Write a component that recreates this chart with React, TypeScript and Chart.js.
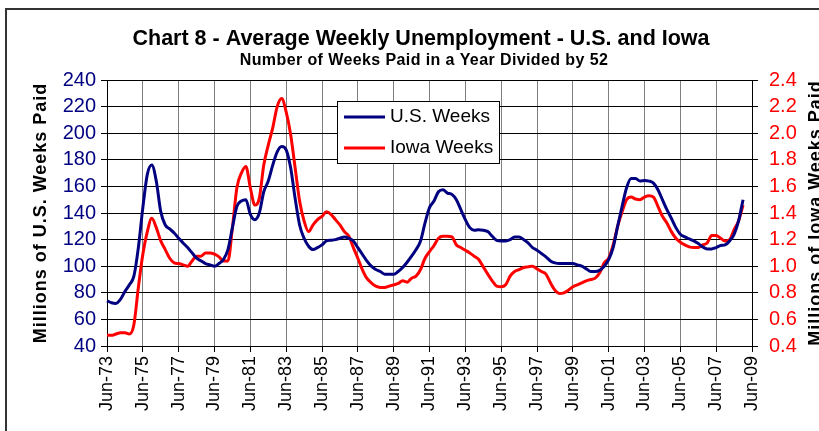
import React, { useEffect, useRef } from "react";
import { Chart, registerables } from "chart.js";

Chart.register(...registerables);

const FONT = '"Liberation Sans", Arial, Helvetica, sans-serif';
const NAVY = "#000080";
const RED = "#FF0000";

// Quarterly categories, Jun-73 .. Jun-09
const QUARTER_MONTHS = ["Mar", "Jun", "Sep", "Dec"];
const categories: string[] = [];
for (let y = 1973; y <= 2009; y++) {
  for (const m of QUARTER_MONTHS) {
    if (y === 1973 && m === "Mar") continue;
    if (y === 2009 && (m === "Sep" || m === "Dec")) continue;
    categories.push(`${m}-${String(y % 100).padStart(2, "0")}`);
  }
}

// Labels shown on the x axis
const xTickLabels = [
  "Jun-73", "Jun-75", "Jun-77", "Jun-79", "Jun-81", "Jun-83", "Jun-85", "Jun-87", "Jun-89",
  "Jun-91", "Jun-93", "Jun-95", "Jun-97", "Jun-99", "Jun-01", "Jun-03", "Jun-05", "Jun-07", "Jun-09",
];

// U.S. weeks paid (millions), quarterly: Jun, Sep, Dec, Mar
const usWeeks: (number | null)[] = [
  74, 72.5, 72, 75,
  81, 86, 92.5, 114,
  144, 169, 176, 164,
  141, 131, 128, 125,
  121, 117.5, 114, 110,
  106, 104, 102, 101,
  100, 102, 105, 112.5,
  129, 145, 149, 150,
  139, 135, 140, 156,
  164, 176, 186, 190,
  187.5, 174, 151, 131,
  121, 115, 112.5, 114,
  116, 119, 119.5, 120,
  121, 122, 121, 119,
  114, 109, 104, 100,
  97.5, 96, 94, 94,
  94, 96, 99, 103,
  107.5, 112.5, 119, 132.5,
  144, 149, 156, 157.5,
  155, 154, 150, 142.5,
  135, 129, 127, 127.5,
  127, 126, 122.5, 119.5,
  119, 119, 120, 122,
  122, 120, 117.5, 114,
  112, 109.5, 107, 104,
  102.5, 102, 102, 102,
  102, 101, 100, 98,
  96, 96, 97, 100,
  105, 114, 130, 145,
  159, 166, 166, 164,
  164.5, 164, 162.5, 157.5,
  150, 142.5, 136, 129,
  124, 122, 120.5, 119,
  117, 114.5, 113, 113,
  114, 115.5, 116, 119,
  124, 134, 150, null, null,
];

// Iowa weeks paid (millions), quarterly: Jun, Sep, Dec, Mar
const iowaWeeks: (number | null)[] = [
  0.48, 0.48, 0.49, 0.5,
  0.5, 0.49, 0.56, 0.84,
  1.09, 1.26, 1.36, 1.29,
  1.19, 1.125, 1.06, 1.025,
  1.02, 1.01, 1.0, 1.04,
  1.075, 1.075, 1.1, 1.1,
  1.09, 1.07, 1.04, 1.04,
  1.29, 1.59, 1.7, 1.75,
  1.59, 1.46, 1.51, 1.76,
  1.91, 2.04, 2.2, 2.26,
  2.16, 1.99, 1.74, 1.49,
  1.34, 1.26, 1.31, 1.35,
  1.375, 1.41, 1.39, 1.35,
  1.31, 1.26, 1.225, 1.14,
  1.06, 0.975, 0.91, 0.875,
  0.85, 0.84, 0.84, 0.85,
  0.86, 0.87, 0.89, 0.88,
  0.91, 0.925, 0.975, 1.06,
  1.11, 1.155, 1.21, 1.225,
  1.225, 1.22, 1.16, 1.14,
  1.12, 1.1, 1.075, 1.05,
  0.995, 0.94, 0.89, 0.85,
  0.845, 0.86, 0.925, 0.96,
  0.975, 0.99, 0.995, 1.0,
  0.98, 0.96, 0.94, 0.875,
  0.82, 0.795, 0.8, 0.82,
  0.845, 0.86, 0.875, 0.89,
  0.9, 0.91, 0.95, 1.025,
  1.06, 1.16, 1.3, 1.41,
  1.5, 1.52, 1.505, 1.5,
  1.52, 1.53, 1.52, 1.45,
  1.375, 1.325, 1.26, 1.21,
  1.18, 1.16, 1.145, 1.14,
  1.14, 1.16, 1.175, 1.23,
  1.23, 1.21, 1.19, 1.2,
  1.275, 1.34, 1.46, null, null,
];

const seriesNames = ["U.S. Weeks", "Iowa Weeks"];
const titleText = "Chart 8 - Average Weekly Unemployment - U.S. and Iowa";
const subtitleText = "Number of Weeks Paid in a Year Divided by 52";
const leftAxisTitle = "Millions of U.S. Weeks Paid";
const rightAxisTitle = "Millions of Iowa Weeks Paid";

function setSpacing(ctx: any, px: number) {
  if ("letterSpacing" in ctx) ctx.letterSpacing = `${px}px`;
}

const decorPlugin = {
  id: "decor",
  beforeDraw(chart: any) {
    const ctx = chart.ctx as CanvasRenderingContext2D;
    ctx.save();
    ctx.fillStyle = "#ffffff";
    ctx.fillRect(0, 0, chart.width, chart.height);
    ctx.strokeStyle = "#333333";
    ctx.lineWidth = 2;
    ctx.strokeRect(6, 9, chart.width + 20, chart.height + 20);
    ctx.restore();
  },
  afterDatasetsDraw(chart: any) {
    const ctx = chart.ctx as CanvasRenderingContext2D;
    ctx.save();
    ctx.fillStyle = "#ffffff";
    ctx.fillRect(337, 101, 162, 62);
    ctx.strokeStyle = "#000000";
    ctx.lineWidth = 1;
    ctx.strokeRect(337.5, 101.5, 162, 62);
    const colors = [NAVY, RED];
    const ys = [117, 148];
    ctx.font = `19px ${FONT}`;
    ctx.textBaseline = "middle";
    ctx.textAlign = "left";
    seriesNames.forEach((name, i) => {
      ctx.strokeStyle = colors[i];
      ctx.lineWidth = 3;
      ctx.beginPath();
      ctx.moveTo(344, ys[i]);
      ctx.lineTo(385, ys[i]);
      ctx.stroke();
      ctx.fillStyle = "#000000";
      ctx.fillText(name, 390, ys[i]);
    });
    ctx.restore();
  },
  afterDraw(chart: any) {
    const ctx = chart.ctx as CanvasRenderingContext2D;
    ctx.save();
    ctx.fillStyle = "#000000";
    ctx.textAlign = "center";
    ctx.textBaseline = "middle";
    ctx.font = `bold 21.5px ${FONT}`;
    ctx.fillText(titleText, 421, 39);
    ctx.font = `bold 16px ${FONT}`;
    setSpacing(ctx, 0.4);
    ctx.fillText(subtitleText, 424, 61);
    ctx.font = `bold 18px ${FONT}`;
    setSpacing(ctx, 1);
    ctx.translate(41, 213);
    ctx.rotate(-Math.PI / 2);
    ctx.fillText(leftAxisTitle, 0, 0);
    ctx.restore();
    ctx.save();
    ctx.fillStyle = "#000000";
    ctx.textAlign = "center";
    ctx.textBaseline = "middle";
    ctx.font = `bold 18px ${FONT}`;
    setSpacing(ctx, 1);
    ctx.translate(816, 213);
    ctx.rotate(-Math.PI / 2);
    ctx.fillText(rightAxisTitle, 0, 0);
    ctx.restore();
  },
};

export default function App() {
  const canvasRef = useRef<HTMLCanvasElement | null>(null);

  useEffect(() => {
    if (!canvasRef.current) return;
    const chart = new Chart(canvasRef.current, {
      type: "line",
      data: {
        labels: categories,
        datasets: [
          {
            label: seriesNames[0],
            data: usWeeks,
            borderColor: NAVY,
            backgroundColor: NAVY,
            borderWidth: 3,
            pointRadius: 0,
            cubicInterpolationMode: "monotone",
            yAxisID: "y",
            spanGaps: false,
          },
          {
            label: seriesNames[1],
            data: iowaWeeks,
            borderColor: RED,
            backgroundColor: RED,
            borderWidth: 3,
            pointRadius: 0,
            cubicInterpolationMode: "monotone",
            yAxisID: "y1",
            spanGaps: false,
          },
        ],
      },
      options: {
        responsive: false,
        animation: false,
        devicePixelRatio: 1,
        layout: { padding: { top: 80, left: 0, right: 0, bottom: 0 } },
        plugins: {
          legend: { display: false },
          title: { display: false },
          tooltip: { enabled: false },
        },
        scales: {
          x: {
            type: "category",
            offset: false,
            afterFit: (s: any) => {
              s.height = 85;
            },
            grid: {
              display: true,
              drawOnChartArea: true,
              color: (c: any) =>
                xTickLabels.includes(categories[c.index]) ? "#808080" : "rgba(0,0,0,0)",
              tickColor: (c: any) =>
                xTickLabels.includes(categories[c.index]) ? "#000000" : "rgba(0,0,0,0)",
              tickLength: 6,
              lineWidth: 1,
            },
            border: { display: true, color: "#000000", width: 1 },
            ticks: {
              autoSkip: false,
              minRotation: 90,
              maxRotation: 90,
              padding: 4,
              color: "#000000",
              font: { family: FONT, size: 18 },
              callback: (_v: any, i: number) =>
                xTickLabels.includes(categories[i]) ? categories[i] : "",
            },
          },
          y: {
            position: "left",
            min: 40,
            max: 240,
            afterFit: (s: any) => {
              s.width = 107;
            },
            grid: { color: "#000000", tickColor: "#000000", tickLength: 6, lineWidth: 1 },
            border: { display: true, color: "#000000", width: 1 },
            ticks: {
              stepSize: 20,
              autoSkip: false,
              padding: 5,
              color: NAVY,
              font: { family: FONT, size: 20 },
            },
          },
          y1: {
            position: "right",
            min: 0.4,
            max: 2.4,
            afterFit: (s: any) => {
              s.width = 88;
            },
            grid: { drawOnChartArea: false, color: "#000000", tickColor: "#000000", tickLength: 6 },
            border: { display: true, color: "#000000", width: 1 },
            ticks: {
              stepSize: 0.2,
              autoSkip: false,
              padding: 11,
              color: RED,
              font: { family: FONT, size: 20 },
              callback: (v: any) => Number(v).toFixed(1),
            },
          },
        },
      },
      plugins: [decorPlugin],
    } as any);
    return () => chart.destroy();
  }, []);

  return (
    <div
      style={{
        position: "fixed",
        left: 0,
        top: 0,
        width: 819,
        height: 431,
        overflow: "hidden",
        background: "#ffffff",
      }}
    >
      <canvas ref={canvasRef} width={840} height={431} style={{ display: "block", width: 840, height: 431 }} />
    </div>
  );
}
